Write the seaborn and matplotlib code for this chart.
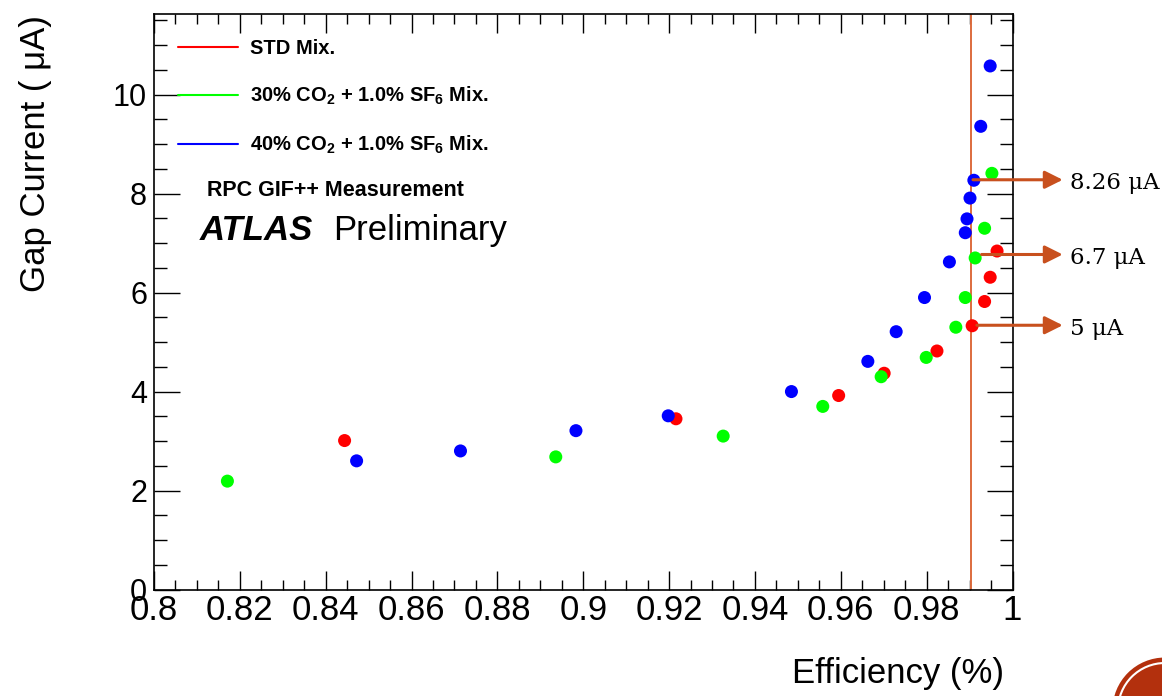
import numpy as np
import pandas as pd
import seaborn as sns
import matplotlib
matplotlib.use("Agg")
import matplotlib.pyplot as plt
from matplotlib.lines import Line2D
from matplotlib.patches import Circle
from matplotlib.ticker import MultipleLocator

# ---------------- data ----------------
series_names = ["STD Mix.",
                r"30% CO$_\mathbf{2}$ + 1.0% SF$_\mathbf{6}$ Mix.",
                r"40% CO$_\mathbf{2}$ + 1.0% SF$_\mathbf{6}$ Mix."]
series_colors = ["#ff0000", "#00ff00", "#0000ff"]

std_eff = [0.8444, 0.9216, 0.9595, 0.9701, 0.9824, 0.9906, 0.9935, 0.9948, 0.9964]
std_cur = [3.01, 3.45, 3.92, 4.37, 4.82, 5.33, 5.82, 6.31, 6.84]

co2_30_eff = [0.8171, 0.8936, 0.9326, 0.9558, 0.9694, 0.9799, 0.9868, 0.9890,
              0.9913, 0.9935, 0.9952]
co2_30_cur = [2.19, 2.68, 3.10, 3.70, 4.30, 4.69, 5.30, 5.90, 6.70, 7.30, 8.41]

co2_40_eff = [0.8472, 0.8714, 0.8983, 0.9198, 0.9485, 0.9663, 0.9729, 0.9795,
              0.9853, 0.9890, 0.9894, 0.9901, 0.9910, 0.9926, 0.9948]
co2_40_cur = [2.60, 2.80, 3.21, 3.51, 4.00, 4.61, 5.21, 5.90, 6.62, 7.21,
              7.49, 7.91, 8.27, 9.36, 10.58]

ref_eff = 0.9903
arrow_start = [0.9908, 0.9928, 0.9917]
arrow_y = [8.28, 6.77, 5.34]
arrow_labels = ["8.26 μA", "6.7 μA", "5 μA"]

x_ticks = [0.80, 0.82, 0.84, 0.86, 0.88, 0.90, 0.92, 0.94, 0.96, 0.98, 1.00]
x_tick_labels = ["0.8", "0.82", "0.84", "0.86", "0.88", "0.9", "0.92", "0.94",
                 "0.96", "0.98", "1"]
y_ticks = [0, 2, 4, 6, 8, 10]
y_tick_labels = ["0", "2", "4", "6", "8", "10"]

# ---------------- style ----------------
sns.set_theme(style="ticks")
plt.rcParams["font.family"] = ["Liberation Sans", "DejaVu Sans"]
plt.rcParams["mathtext.fontset"] = "custom"
plt.rcParams["mathtext.rm"] = "Liberation Sans"
plt.rcParams["mathtext.bf"] = "Liberation Sans:bold"
plt.rcParams["mathtext.it"] = "Liberation Sans:italic"
for key in ["text.color", "axes.labelcolor", "xtick.color", "ytick.color",
            "xtick.labelcolor", "ytick.labelcolor"]:
    plt.rcParams[key] = "black"

df = pd.concat([
    pd.DataFrame({"eff": std_eff, "cur": std_cur, "mix": series_names[0]}),
    pd.DataFrame({"eff": co2_30_eff, "cur": co2_30_cur, "mix": series_names[1]}),
    pd.DataFrame({"eff": co2_40_eff, "cur": co2_40_cur, "mix": series_names[2]}),
], ignore_index=True)

fig = plt.figure(figsize=(11.62, 6.96), dpi=100)
ax = fig.add_axes([154 / 1162, 1 - 589.5 / 696, 858.5 / 1162, 575.5 / 696])

sns.scatterplot(data=df, x="eff", y="cur", hue="mix", hue_order=series_names,
                palette=series_colors, s=88, linewidth=0, legend=False, ax=ax,
                zorder=3)

ax.axvline(ref_eff, color="#dd6b3d", lw=1.4, zorder=2)

for xs, y, lab in zip(arrow_start, arrow_y, arrow_labels):
    ax.annotate("", xy=(1.0117, y), xytext=(xs, y), xycoords="data",
                annotation_clip=False,
                arrowprops=dict(arrowstyle="-|>,head_length=0.6,head_width=0.3",
                                mutation_scale=18, lw=2.2, color="#c8501e",
                                shrinkA=0, shrinkB=0))
    ax.text(1.0134, y - 0.07, lab, fontsize=16.5, family="DejaVu Serif",
            va="center", ha="left", clip_on=False, color="black")

ax.set_xlim(0.8, 1.0)
ax.set_ylim(0, 11.63)
ax.set_xticks(x_ticks)
ax.set_xticklabels(x_tick_labels, fontsize=25)
ax.set_yticks(y_ticks)
ax.set_yticklabels(y_tick_labels, fontsize=22)
ax.xaxis.set_minor_locator(MultipleLocator(0.005))
ax.yaxis.set_minor_locator(MultipleLocator(0.5))
ax.tick_params(which="both", direction="in", top=True, right=True,
               color="black", width=1.0, labelcolor="black")
ax.xaxis.set_tick_params(which="major", length=13.5, pad=3)
ax.xaxis.set_tick_params(which="minor", length=7.2)
ax.yaxis.set_tick_params(which="major", length=18.5, pad=5)
ax.yaxis.set_tick_params(which="minor", length=9.3)
for sp in ax.spines.values():
    sp.set_color("black")
    sp.set_linewidth(1.2)

ax.set_xlabel("Efficiency (%)", fontsize=25, loc="right", color="black")
ax.xaxis.set_label_coords((1004 - 154) / 858.5, (589.5 - 657) / 575.5)
ax.set_ylabel("Gap Current ( μA)", fontsize=25, loc="top", color="black")
ax.yaxis.set_label_coords((52 - 154) / 858.5, (589.5 - 15) / 575.5)

handles = [Line2D([], [], color=c, lw=1.5) for c in series_colors]
leg = ax.legend(handles, series_names, loc="upper left",
                bbox_to_anchor=((178 - 154) / 858.5, (589.5 - 39) / 575.5),
                frameon=False, borderpad=0, borderaxespad=0, handlelength=3.0,
                handletextpad=0.6, labelspacing=1.33,
                prop=dict(size=14.5, weight="bold"))
for t in leg.get_texts():
    t.set_color("black")

ax.text((207 - 154) / 858.5, (589.5 - 190) / 575.5, "RPC GIF++ Measurement",
        transform=ax.transAxes, fontsize=15.5, fontweight="bold",
        va="center", ha="left")
ax.text((200 - 154) / 858.5, (589.5 - 240) / 575.5, "ATLAS",
        transform=ax.transAxes, fontsize=25, fontweight="bold", style="italic",
        va="baseline", ha="left")
ax.text((333 - 154) / 858.5, (589.5 - 240) / 575.5, "Preliminary",
        transform=ax.transAxes, fontsize=25, va="baseline", ha="left")

# slide badge in the corner
fig.add_artist(Circle((11.65, -0.14), 0.525, transform=fig.dpi_scale_trans,
                      facecolor="#b3300d", edgecolor="none", clip_on=False))
fig.add_artist(Circle((11.65, -0.14), 0.47, transform=fig.dpi_scale_trans,
                      facecolor="none", edgecolor="white", lw=1.5, clip_on=False))

fig.savefig("out.png", dpi=100)
